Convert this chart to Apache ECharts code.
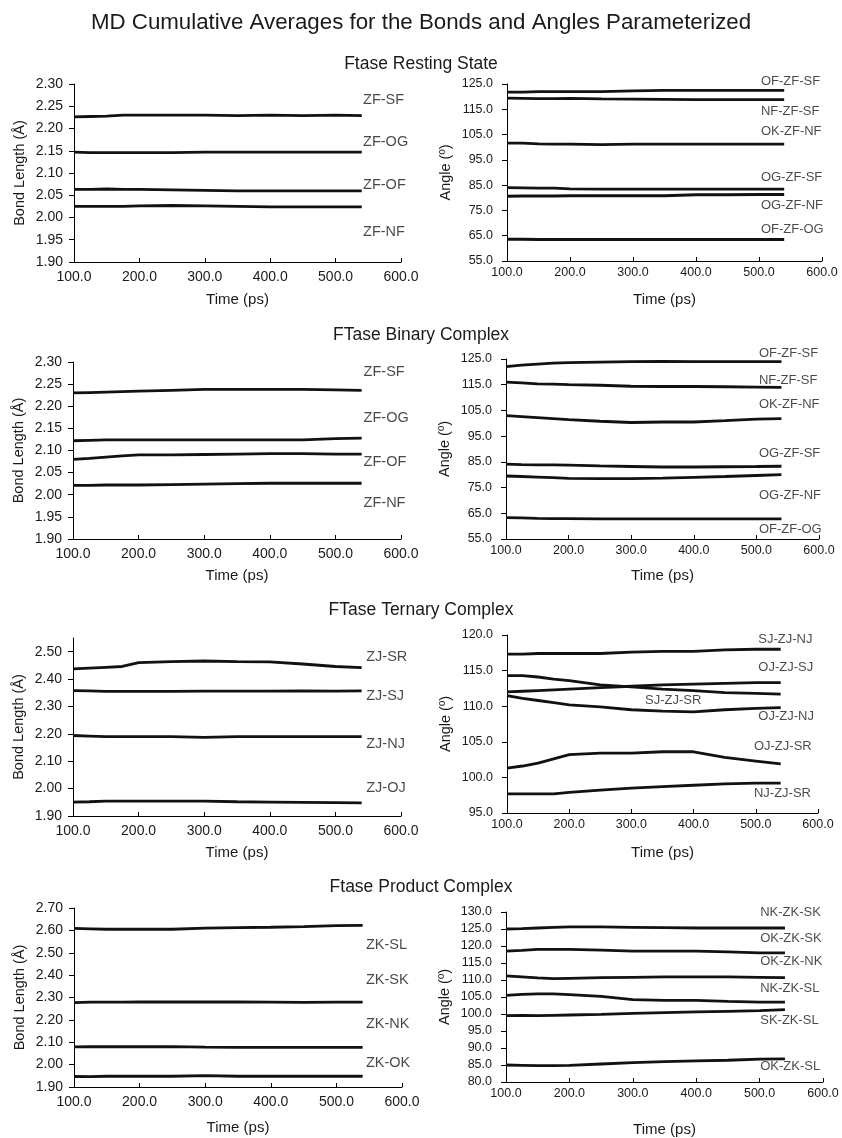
<!DOCTYPE html>
<html><head><meta charset="utf-8">
<script src="https://cdn.jsdelivr.net/npm/echarts@6/dist/echarts.min.js"></script>
<style>html,body{margin:0;padding:0;background:#fff}#c{width:842px;height:1138px}</style>
</head><body><div id="c"></div>
<script>
// Time samples (ps)
const times = [100,125,150,175,200,250,300,350,400,450,500,540];

// Panel 1: Ftase Resting State - bonds
const restBondNames = ['ZF-SF','ZF-OG','ZF-OF','ZF-NF'];
const restBondVals = [
  [2.226,2.227,2.228,2.230,2.230,2.230,2.230,2.229,2.230,2.229,2.230,2.229],
  [2.147,2.146,2.146,2.146,2.146,2.146,2.147,2.147,2.147,2.147,2.147,2.147],
  [2.063,2.063,2.064,2.063,2.063,2.062,2.061,2.060,2.060,2.060,2.060,2.060],
  [2.025,2.025,2.025,2.025,2.026,2.027,2.026,2.025,2.024,2.024,2.024,2.024]
];
const restBondLabelX = [542,542,542,542];
const restBondLabelY = [2.264,2.170,2.073,1.967];

// Panel 2: Ftase Resting State - angles
const restAngNames = ['OF-ZF-SF','NF-ZF-SF','OK-ZF-NF','OG-ZF-SF','OG-ZF-NF','OF-ZF-OG'];
const restAngVals = [
  [121.8,121.8,122.0,122.0,122.0,122.0,122.3,122.5,122.5,122.5,122.5,122.5],
  [119.4,119.3,119.2,119.2,119.3,119.1,119.0,118.9,118.8,118.8,118.8,118.8],
  [101.6,101.6,101.3,101.2,101.2,101.0,101.2,101.2,101.2,101.2,101.2,101.2],
  [84.0,83.9,83.8,83.8,83.5,83.4,83.4,83.4,83.4,83.4,83.4,83.4],
  [80.6,80.7,80.7,80.7,80.8,80.8,80.8,80.8,81.2,81.2,81.3,81.3],
  [63.6,63.6,63.5,63.5,63.5,63.5,63.5,63.5,63.5,63.5,63.5,63.5]
];
const restAngLabelX = [503,503,503,503,503,503];
const restAngLabelY = [126.2,114.0,106.1,88.0,77.0,67.6];

// Panel 3: FTase Binary Complex - bonds
const binBondNames = ['ZF-SF','ZF-OG','ZF-OF','ZF-NF'];
const binBondVals = [
  [2.230,2.231,2.232,2.233,2.234,2.236,2.238,2.238,2.238,2.238,2.237,2.236],
  [2.122,2.123,2.124,2.124,2.124,2.124,2.124,2.124,2.124,2.124,2.127,2.128],
  [2.080,2.082,2.085,2.088,2.090,2.090,2.091,2.092,2.093,2.093,2.092,2.092],
  [2.021,2.021,2.022,2.022,2.022,2.023,2.024,2.025,2.026,2.026,2.026,2.026]
];
const binBondLabelX = [543,543,543,543];
const binBondLabelY = [2.277,2.173,2.074,1.981];

// Panel 4: FTase Binary Complex - angles
const binAngNames = ['OF-ZF-SF','NF-ZF-SF','OK-ZF-NF','OG-ZF-SF','OG-ZF-NF','OF-ZF-OG'];
const binAngVals = [
  [122.0,122.6,123.0,123.4,123.6,123.8,124.0,124.1,124.0,124.0,124.0,124.0],
  [116.0,115.7,115.3,115.2,115.0,114.8,114.4,114.3,114.3,114.2,114.1,114.0],
  [103.0,102.6,102.2,101.8,101.4,100.8,100.3,100.5,100.5,101.0,101.6,101.8],
  [84.1,83.9,83.8,83.8,83.7,83.4,83.2,83.0,83.0,83.1,83.2,83.3],
  [79.5,79.3,79.1,78.9,78.6,78.5,78.5,78.7,79.0,79.3,79.7,80.0],
  [63.3,63.2,63.0,62.9,62.9,62.8,62.8,62.8,62.8,62.8,62.8,62.8]
];
const binAngLabelX = [504,504,504,504,504,504];
const binAngLabelY = [127.3,116.8,107.5,88.4,72.1,58.9];

// Panel 5: FTase Ternary Complex - bonds
const terBondNames = ['ZJ-SR','ZJ-SJ','ZJ-NJ','ZJ-OJ'];
const terBondVals = [
  [2.437,2.440,2.443,2.446,2.460,2.464,2.466,2.464,2.463,2.455,2.446,2.442],
  [2.358,2.357,2.355,2.355,2.355,2.355,2.356,2.356,2.356,2.357,2.356,2.357],
  [2.194,2.192,2.190,2.190,2.190,2.190,2.187,2.190,2.190,2.190,2.190,2.190],
  [1.951,1.952,1.954,1.954,1.954,1.954,1.954,1.952,1.951,1.950,1.949,1.948]
];
const terBondLabelX = [547,547,547,547];
const terBondLabelY = [2.481,2.338,2.163,2.002];

// Panel 6: FTase Ternary Complex - angles
const terAngNames = ['SJ-ZJ-NJ','OJ-ZJ-SJ','SJ-ZJ-SR','OJ-ZJ-NJ','OJ-ZJ-SR','NJ-ZJ-SR'];
const terAngVals = [
  [117.3,117.3,117.4,117.4,117.4,117.4,117.6,117.7,117.7,117.9,118.0,118.0],
  [114.3,114.3,114.1,113.8,113.6,113.0,112.7,112.4,112.2,111.9,111.8,111.7],
  [112.0,112.1,112.2,112.3,112.4,112.6,112.8,113.0,113.1,113.2,113.3,113.3],
  [111.5,111.1,110.8,110.5,110.2,109.9,109.5,109.3,109.2,109.5,109.7,109.8],
  [101.3,101.6,102.0,102.6,103.2,103.4,103.4,103.6,103.6,102.8,102.3,101.9],
  [97.7,97.7,97.7,97.7,97.9,98.2,98.5,98.7,98.9,99.1,99.2,99.2]
];
const terAngLabelX = [504,504,322,504,497,497];
const terAngLabelY = [119.44,115.5,110.77,108.5,104.4,97.7];

// Panel 7: Ftase Product Complex - bonds
const proBondNames = ['ZK-SL','ZK-SK','ZK-NK','ZK-OK'];
const proBondVals = [
  [2.609,2.607,2.605,2.605,2.605,2.605,2.610,2.612,2.614,2.617,2.621,2.622],
  [2.277,2.279,2.279,2.279,2.280,2.280,2.280,2.280,2.279,2.278,2.279,2.279],
  [2.079,2.080,2.080,2.080,2.080,2.080,2.078,2.077,2.077,2.077,2.077,2.077],
  [1.947,1.946,1.948,1.948,1.948,1.948,1.951,1.948,1.948,1.948,1.948,1.948]
];
const proBondLabelX = [545,545,545,545];
const proBondLabelY = [2.535,2.378,2.182,2.007];

// Panel 8: Ftase Product Complex - angles
const proAngNames = ['NK-ZK-SK','OK-ZK-SK','OK-ZK-NK','NK-ZK-SL','SK-ZK-SL','OK-ZK-SL'];
const proAngVals = [
  [125.0,125.1,125.3,125.5,125.6,125.6,125.5,125.4,125.3,125.3,125.3,125.3],
  [118.5,118.7,119.0,119.0,119.0,118.8,118.5,118.5,118.5,118.3,118.0,118.0],
  [111.2,110.9,110.6,110.4,110.5,110.7,110.8,110.9,110.9,110.9,110.8,110.7],
  [105.5,105.8,105.9,105.9,105.7,105.2,104.2,104.0,104.0,103.7,103.5,103.5],
  [99.5,99.6,99.5,99.6,99.7,99.9,100.2,100.4,100.6,100.8,101.0,101.3],
  [85.0,84.9,84.8,84.8,84.9,85.3,85.7,86.0,86.2,86.4,86.7,86.8]
];
const proAngLabelX = [501,501,501,501,501,501];
const proAngLabelY = [129.8,122.2,115.5,107.4,98.2,84.5];

// Axis ranges
const yRanges = [
  {min:1.90,max:2.30,interval:0.05,dec:2},
  {min:55,max:125,interval:10,dec:1},
  {min:1.90,max:2.30,interval:0.05,dec:2},
  {min:55,max:125,interval:10,dec:1},
  {min:1.90,max:2.55,interval:0.10,dec:2},
  {min:95,max:120,interval:5,dec:1},
  {min:1.90,max:2.70,interval:0.10,dec:2},
  {min:80,max:130,interval:5,dec:1}
];
const yNames = ['Bond Length (Å)','Angle (º)','Bond Length (Å)','Angle (º)','Bond Length (Å)','Angle (º)','Bond Length (Å)','Angle (º)'];
const xName = 'Time (ps)';
const sectionTitles = ['Ftase Resting State','FTase Binary Complex','FTase Ternary Complex','Ftase Product Complex'];
const mainTitle = 'MD Cumulative Averages for the Bonds and Angles Parameterized';

const panels = [
  [restBondNames,restBondVals,restBondLabelX,restBondLabelY],
  [restAngNames,restAngVals,restAngLabelX,restAngLabelY],
  [binBondNames,binBondVals,binBondLabelX,binBondLabelY],
  [binAngNames,binAngVals,binAngLabelX,binAngLabelY],
  [terBondNames,terBondVals,terBondLabelX,terBondLabelY],
  [terAngNames,terAngVals,terAngLabelX,terAngLabelY],
  [proBondNames,proBondVals,proBondLabelX,proBondLabelY],
  [proAngNames,proAngVals,proAngLabelX,proAngLabelY]
];

// Layout
const grids = [
  {left:74,top:84,width:327,height:178},
  {left:507,top:84,width:315,height:177},
  {left:73,top:362,width:328,height:177},
  {left:506,top:359,width:313,height:180},
  {left:73,top:638,width:328,height:178},
  {left:507,top:635,width:311,height:178},
  {left:74,top:908,width:328,height:179},
  {left:506,top:912,width:317,height:179}
];
const yNameGap = [47,54,47,54,47,54,47,54];
const xNameGap = [30,31,29,29,29,32,33,40];
const sectionTops = [50,321,596,873];

const FONT = 'Liberation Sans, Arial, sans-serif';
const TXT = '#1a1a1a';
const isLeft = i => i % 2 === 0;

const option = {
  backgroundColor:'#fff',
  animation:false,
  title:[{text:mainTitle,left:'center',top:7,textStyle:{fontFamily:FONT,fontWeight:'normal',fontSize:22.3,color:TXT}}]
    .concat(sectionTitles.map((t,i)=>({text:t,left:'center',top:sectionTops[i],textStyle:{fontFamily:FONT,fontWeight:'normal',fontSize:17.5,color:TXT}}))),
  grid: grids,
  xAxis: grids.map((g,i)=>({
    type:'value',gridIndex:i,min:100,max:600,interval:100,
    name:xName,nameLocation:'middle',nameGap:xNameGap[i],
    nameTextStyle:{fontFamily:FONT,fontSize:15,color:TXT},
    axisLine:{lineStyle:{color:'#000',width:1}},
    axisTick:{show:true,inside:true,length:4,lineStyle:{color:'#000'}},
    axisLabel:{fontFamily:FONT,fontSize:isLeft(i)?14:12.5,color:TXT,margin:isLeft(i)?8:5,formatter:v=>v.toFixed(1)},
    splitLine:{show:false}
  })),
  yAxis: grids.map((g,i)=>({
    type:'value',gridIndex:i,min:yRanges[i].min,max:yRanges[i].max,interval:yRanges[i].interval,
    name:yNames[i],nameLocation:'middle',nameGap:yNameGap[i],
    nameTextStyle:{fontFamily:FONT,fontSize:14.5,color:TXT},
    axisLine:{show:true,lineStyle:{color:'#000',width:1}},
    axisTick:{show:true,length:5,lineStyle:{color:'#000'}},
    axisLabel:{fontFamily:FONT,fontSize:isLeft(i)?14:12.5,color:TXT,margin:isLeft(i)?11:14,showMaxLabel:i!==4,formatter:v=>v.toFixed(yRanges[i].dec)},
    splitLine:{show:false}
  })),
  series: []
};

panels.forEach((p,i)=>{
  const [names,vals,lx,ly] = p;
  names.forEach((n,k)=>{
    option.series.push({
      type:'line',name:n,xAxisIndex:i,yAxisIndex:i,showSymbol:false,symbol:'none',
      lineStyle:{color:'#111',width:2.8},smooth:false,
      data:times.map((t,j)=>[t,vals[k][j]])
    });
  });
  option.series.push({
    type:'scatter',xAxisIndex:i,yAxisIndex:i,symbolSize:0,silent:true,clip:false,
    label:{show:true,position:'right',distance:0,fontFamily:FONT,fontSize:isLeft(i)?14.5:13,color:TXT,formatter:q=>q.data.name},
    data:names.map((n,k)=>({name:n,value:[lx[k],ly[k]]}))
  });
});

const chart = echarts.init(document.getElementById('c'),null,{renderer:'canvas'});
chart.setOption(option);
</script></body></html>
